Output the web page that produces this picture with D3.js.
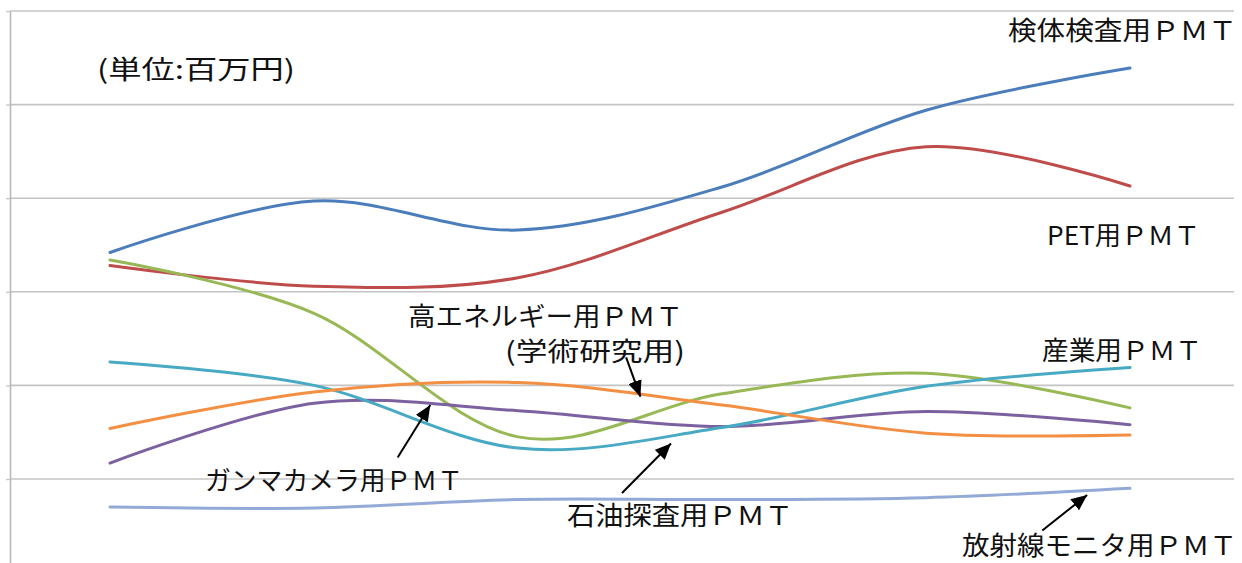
<!DOCTYPE html>
<html lang="ja">
<head>
<meta charset="utf-8">
<script src="https://cdn.jsdelivr.net/npm/d3@7"></script>
<style>
  html, body { margin: 0; padding: 0; background: #fff; }
  svg { display: block; }
  text { font-family: "Noto Sans CJK JP", "Noto Sans", sans-serif; fill: #111; }
</style>
</head>
<body>
<svg id="chart" width="1242" height="563"></svg>
<script>
// Six reporting periods along the horizontal axis
const periods = [0, 1, 2, 3, 4, 5];

// Sales per PMT application (百万円)
const kentaiKensa   = [342, 397, 366, 412, 494, 539];
const petPmt        = [328, 306, 315, 385, 455, 413];
const sangyo        = [334, 277, 145, 191, 213, 176];
const gammaCamera   = [117, 181, 173, 156, 172, 158];
const sekiyuTansa   = [225, 200, 133, 155, 199, 219];
const kouEnergy     = [154, 193, 203, 179, 149, 147];
const housyasenMon  = [70, 69, 78, 78, 80, 90];

const seriesNames = ["検体検査用PMT", "PET用PMT", "産業用PMT", "ガンマカメラ用PMT",
                     "石油探査用PMT", "高エネルギー用PMT", "放射線モニタ用PMT"];
const seriesValues = [kentaiKensa, petPmt, sangyo, gammaCamera, sekiyuTansa, kouEnergy, housyasenMon];
const seriesColors = ["#4A7DBA", "#BE4C4A", "#98B856", "#7C61A0", "#47A9C3", "#F38F43", "#93A9D6"];

// Value-axis gridlines
const gridValues = [100, 200, 300, 400, 500, 600];

const svg = d3.select("#chart");
const plotLeft = 10, plotRight = 1234, plotTop = 11;

const x = d3.scalePoint().domain(periods).range([110, 1130]);
const y = d3.scaleLinear().domain([0, 600]).range([572.6, plotTop]);

// gridlines
svg.append("g")
  .selectAll("line")
  .data(gridValues)
  .join("line")
  .attr("x1", plotLeft).attr("x2", plotRight)
  .attr("y1", d => y(d)).attr("y2", d => y(d))
  .attr("stroke", "#c4c4c4")
  .attr("stroke-width", 1.6);

// value axis (no labels)
const yAxis = svg.append("g")
  .attr("transform", `translate(${plotLeft},0)`)
  .call(d3.axisLeft(y).tickValues(gridValues).tickSizeInner(4).tickSizeOuter(0).tickFormat(""));
yAxis.select(".domain").attr("stroke", "#b8b8b8").attr("stroke-width", 1.6);
yAxis.selectAll(".tick line").attr("stroke", "#c8c8c8").attr("stroke-width", 1.4);

// smoothed series lines
const line = d3.line()
  .x((d, i) => x(periods[i]))
  .y(d => y(d))
  .curve(d3.curveCardinal.tension(0));

svg.append("g")
  .selectAll("path")
  .data(seriesValues)
  .join("path")
  .attr("d", d => line(d))
  .attr("fill", "none")
  .attr("stroke", (d, i) => seriesColors[i])
  .attr("stroke-width", 3)
  .attr("stroke-linecap", "round")
  .attr("stroke-linejoin", "round");

// arrowhead marker
svg.append("defs").append("marker")
  .attr("id", "arrowHead")
  .attr("markerUnits", "userSpaceOnUse")
  .attr("viewBox", "0 0 16 14")
  .attr("refX", 16).attr("refY", 7)
  .attr("markerWidth", 16).attr("markerHeight", 14)
  .attr("orient", "auto")
  .append("path")
  .attr("d", "M0,0 L16,7 L0,14 Z")
  .attr("fill", "#000");

// callout arrows, tail and tip given in (period position, value)
const arrows = [
  { from: [1.41, 123], to: [1.57, 179] },   // ガンマカメラ
  { from: [2.53, 230], to: [2.60, 188] },   // 高エネルギー
  { from: [2.51, 85],  to: [2.75, 138] },   // 石油探査
  { from: [4.57, 45],  to: [4.79, 83] }     // 放射線モニタ
];
const xPos = d3.scaleLinear().domain([0, periods.length - 1]).range(x.range());
svg.append("g")
  .selectAll("line")
  .data(arrows)
  .join("line")
  .attr("x1", d => xPos(d.from[0])).attr("y1", d => y(d.from[1]))
  .attr("x2", d => xPos(d.to[0])).attr("y2", d => y(d.to[1]))
  .attr("stroke", "#000")
  .attr("stroke-width", 2)
  .attr("marker-end", "url(#arrowHead)");

// text labels
const labels = [
  { t: "(単位:百万円)",           x: 97,   y: 79,  w: 198 },
  { t: "検体検査用ＰＭＴ",         x: 1008, y: 40,  w: 229 },
  { t: "PET用ＰＭＴ",             x: 1047, y: 245, w: 153 },
  { t: "高エネルギー用ＰＭＴ",     x: 408,  y: 326, w: 275 },
  { t: "(学術研究用)",             x: 505,  y: 361, w: 180 },
  { t: "産業用ＰＭＴ",             x: 1042, y: 360, w: 160 },
  { t: "ガンマカメラ用ＰＭＴ",     x: 205,  y: 490, w: 258 },
  { t: "石油探査用ＰＭＴ",         x: 567,  y: 525, w: 226 },
  { t: "放射線モニタ用ＰＭＴ",     x: 962,  y: 555, w: 275 }
];
svg.append("g")
  .selectAll("text")
  .data(labels)
  .join("text")
  .attr("x", d => d.x)
  .attr("y", d => d.y)
  .attr("font-size", 26)
  .attr("textLength", d => d.w)
  .attr("lengthAdjust", "spacingAndGlyphs")
  .text(d => d.t);
</script>
</body>
</html>
